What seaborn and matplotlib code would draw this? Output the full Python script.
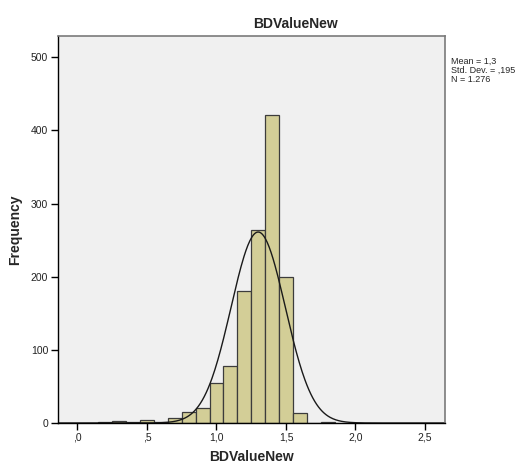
import numpy as np
import pandas as pd
import matplotlib
matplotlib.use("Agg")
import matplotlib.pyplot as plt
import seaborn as sns

# --- data ---
bin_centers = [0.2, 0.3, 0.4, 0.5, 0.6, 0.7, 0.8, 0.9, 1.0, 1.1, 1.2,
               1.3, 1.4, 1.5, 1.6, 1.7, 1.8]
counts = [1, 3, 1, 4, 2, 7, 15, 21, 54, 78, 180, 264, 421, 200, 14, 0, 2]
stat_mean = 1.3
stat_sd = 0.195
stat_n = 1276
x_ticks = [0.0, 0.5, 1.0, 1.5, 2.0, 2.5]
x_tick_labels = [",0", ",5", "1,0", "1,5", "2,0", "2,5"]
y_ticks = [0, 100, 200, 300, 400, 500]

df = pd.DataFrame({"BDValueNew": bin_centers, "Frequency": counts})
bin_width = 0.1
edges = [round(c - bin_width / 2, 2) for c in bin_centers] + [round(bin_centers[-1] + bin_width / 2, 2)]

sns.set_style("white")
plt.rcParams["font.family"] = ["Liberation Sans", "DejaVu Sans"]

fig = plt.figure(figsize=(5.26, 4.65), dpi=100)
ax = fig.add_axes([58 / 526, 42 / 465, 387 / 526, 387 / 465])
ax.set_facecolor("#f0f0f0")

sns.histplot(data=df, x="BDValueNew", weights="Frequency", bins=edges,
             color="#d3ce97", edgecolor="#3c3c3c", linewidth=0.9,
             alpha=1.0, ax=ax)

# normal curve from the reported stats
xs = np.linspace(-0.14, 2.64, 400)
pdf = np.exp(-0.5 * ((xs - stat_mean) / stat_sd) ** 2) / (stat_sd * np.sqrt(2 * np.pi))
ax.plot(xs, pdf * stat_n * bin_width, color="#1a1a1a", linewidth=1.0)

ax.set_xlim(-0.14, 2.644)
ax.set_ylim(0, 529)
ax.set_xticks(x_ticks)
ax.set_xticklabels(x_tick_labels)
ax.set_yticks(y_ticks)
ax.tick_params(axis="both", direction="out", length=5, width=1,
               labelsize=7.5, color="black", labelcolor="#222222",
               bottom=True, left=True, pad=2)

for side in ["left", "bottom"]:
    ax.spines[side].set_color("black")
    ax.spines[side].set_linewidth(1)
for side in ["top", "right"]:
    ax.spines[side].set_color("#7a7a7a")
    ax.spines[side].set_linewidth(1.2)

ax.set_xlabel("BDValueNew", fontsize=10, fontweight="bold", labelpad=5)
ax.set_ylabel("Frequency", fontsize=10, fontweight="bold", labelpad=6)
fig.text(295 / 526, 1 - 24 / 465, "BDValueNew", ha="center", va="center",
         fontsize=10, fontweight="bold")

fig.text(451 / 526, 1 - 57 / 465,
         f"Mean = 1,3\nStd. Dev. = ,195\nN = 1.276",
         ha="left", va="top", fontsize=6.5, linespacing=1.0)

fig.savefig("out.png", dpi=100)
